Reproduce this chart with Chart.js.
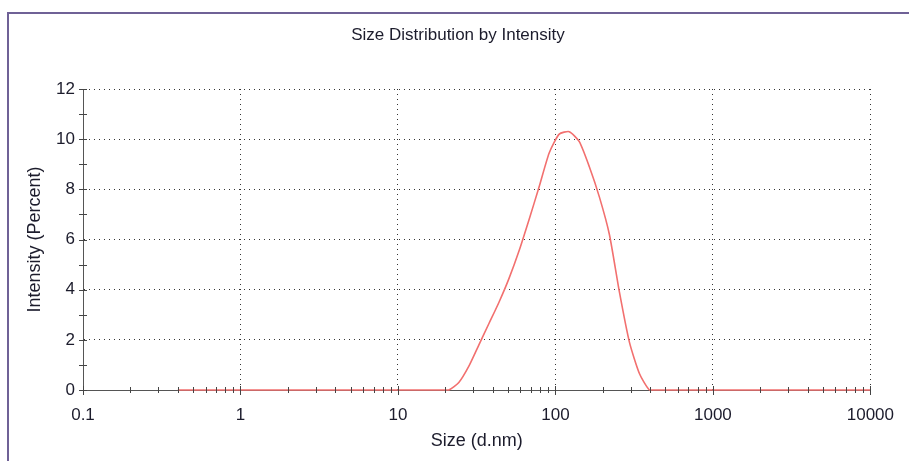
<!DOCTYPE html>
<html>
<head>
<meta charset="utf-8">
<script src="https://cdn.jsdelivr.net/npm/chart.js@4.4.1/dist/chart.umd.min.js"></script>
<style>
  html, body { margin: 0; padding: 0; background: #fff; }
  #wrap { position: relative; width: 909px; height: 461px; overflow: hidden; }
  #frame { position: absolute; left: 7px; top: 12px; width: 930px; height: 480px; border: 2px solid #6f6196; box-sizing: border-box; pointer-events: none; }
  canvas { position: absolute; left: 0; top: 0; }
</style>
</head>
<body>
<div id="wrap">
  <canvas id="dlsChart" width="909" height="461"></canvas>
  <div id="frame"></div>
</div>
<script>
// size bins (d.nm) and intensity (%)
const sizeNm = [
  0.4, 0.4632, 0.5365, 0.6213, 0.7195, 0.8332, 0.9649, 1.117, 1.294, 1.499,
  1.736, 2.01, 2.328, 2.696, 3.122, 3.615, 4.187, 4.849, 5.615, 6.503,
  7.531, 8.721, 10.1, 11.7, 13.54, 15.69, 18.17, 21.04, 24.36, 28.21,
  32.67, 37.84, 43.82, 50.75, 58.77, 68.06, 78.82, 91.28, 105.7, 122.4,
  141.8, 164.2, 190.1, 220.2, 255.0, 295.3, 342.0, 396.1, 458.7, 531.2,
  615.1, 712.4, 825.0, 955.4, 1106, 1281, 1484, 1718, 1990, 2305,
  2669, 3091, 3580, 4145, 4801, 5560, 6439, 7456, 8635, 10000
];
const intensityPct = [
  0, 0, 0, 0, 0, 0, 0, 0, 0, 0,
  0, 0, 0, 0, 0, 0, 0, 0, 0, 0,
  0, 0, 0, 0, 0, 0, 0, 0, 0.3, 0.95,
  1.8, 2.65, 3.5, 4.45, 5.55, 6.8, 8.1, 9.45, 10.2, 10.3,
  9.9, 8.9, 7.7, 6.2, 3.9, 1.9, 0.65, 0, 0, 0,
  0, 0, 0, 0, 0, 0, 0, 0, 0, 0,
  0, 0, 0, 0, 0, 0, 0, 0, 0, 0
];
const xRange = [0.1, 10000];
const yRange = [0, 12];

const fontFamily = "'Liberation Sans', Arial, sans-serif";
const textColor = '#1c1c2c';

function isDecade(v) {
  const l = Math.log10(v);
  return Math.abs(l - Math.round(l)) < 1e-9;
}

function logTicks(min, max) {
  const out = [];
  for (let e = Math.round(Math.log10(min)); e < Math.round(Math.log10(max)); e++) {
    for (let m = 1; m < 10; m++) {
      out.push(Number((m * Math.pow(10, e)).toPrecision(3)));
    }
  }
  out.push(max);
  return out;
}

// small crossing tick marks on both axes, like the instrument software draws
const crossTicks = {
  id: 'crossTicks',
  afterDraw(chart) {
    const ctx = chart.ctx;
    const xs = chart.scales.x;
    const ys = chart.scales.y;
    const y0 = ys.getPixelForValue(0);
    const x0 = xs.getPixelForValue(xRange[0]);
    ctx.save();
    ctx.strokeStyle = '#444';
    ctx.lineWidth = 1;
    ctx.beginPath();
    logTicks(xRange[0], xRange[1]).forEach(v => {
      const px = Math.round(xs.getPixelForValue(v)) + 0.5;
      const big = isDecade(v);
      ctx.moveTo(px, y0 - (big ? 4 : 3));
      ctx.lineTo(px, y0 + (big ? 5 : 3));
    });
    for (let v = yRange[0]; v <= yRange[1]; v++) {
      const py = Math.round(ys.getPixelForValue(v)) + 0.5;
      ctx.moveTo(x0 - 4, py);
      ctx.lineTo(x0 + 4, py);
    }
    ctx.stroke();
    ctx.restore();
  }
};

new Chart('dlsChart', {
  type: 'line',
  data: {
    datasets: [{
      data: sizeNm.map((s, i) => ({x: s, y: intensityPct[i]})),
      borderColor: '#f2706f',
      borderWidth: 1.6,
      pointRadius: 0,
      tension: 0.2,
      clip: 4,
      fill: false
    }]
  },
  options: {
    responsive: false,
    animation: false,
    layout: { padding: { left: 45, right: 38, top: 0, bottom: 0 } },
    plugins: {
      legend: { display: false },
      tooltip: { enabled: false },
      title: {
        display: true,
        text: 'Size Distribution by Intensity',
        color: textColor,
        font: { family: fontFamily, size: 17, weight: 'normal' },
        padding: { top: 25, bottom: 43.6 }
      }
    },
    scales: {
      x: {
        type: 'logarithmic',
        min: xRange[0],
        max: xRange[1],
        afterBuildTicks(scale) {
          scale.ticks = logTicks(xRange[0], xRange[1]).map(v => ({value: v}));
        },
        afterFit(scale) { scale.height = 71; },
        ticks: {
          autoSkip: false,
          maxRotation: 0,
          padding: 15,
          color: textColor,
          font: { family: fontFamily, size: 17 },
          callback: v => isDecade(v) ? String(v) : ''
        },
        grid: {
          drawTicks: false,
          lineWidth: 1,
          color: c => (c.tick && isDecade(c.tick.value)) ? '#333' : 'rgba(0,0,0,0)'
        },
        border: { display: true, color: '#555', width: 1, dash: [1, 4] },
        title: {
          display: true,
          text: 'Size (d.nm)',
          color: textColor,
          font: { family: fontFamily, size: 18 },
          padding: { top: 4, bottom: 9 }
        }
      },
      y: {
        min: yRange[0],
        max: yRange[1],
        afterBuildTicks(scale) {
          const t = [];
          for (let v = yRange[0]; v <= yRange[1]; v += 2) t.push({value: v});
          scale.ticks = t;
        },
        afterFit(scale) { scale.width = 38; },
        ticks: {
          padding: 8,
          color: textColor,
          font: { family: fontFamily, size: 17 }
        },
        grid: {
          drawTicks: false,
          lineWidth: 1,
          color: '#333'
        },
        border: { display: true, color: '#555', width: 1, dash: [1, 4] },
        title: {
          display: true,
          text: 'Intensity (Percent)',
          color: textColor,
          font: { family: fontFamily, size: 18 },
          padding: { top: -21, bottom: 4 }
        }
      }
    }
  },
  plugins: [crossTicks]
});
</script>
</body>
</html>
